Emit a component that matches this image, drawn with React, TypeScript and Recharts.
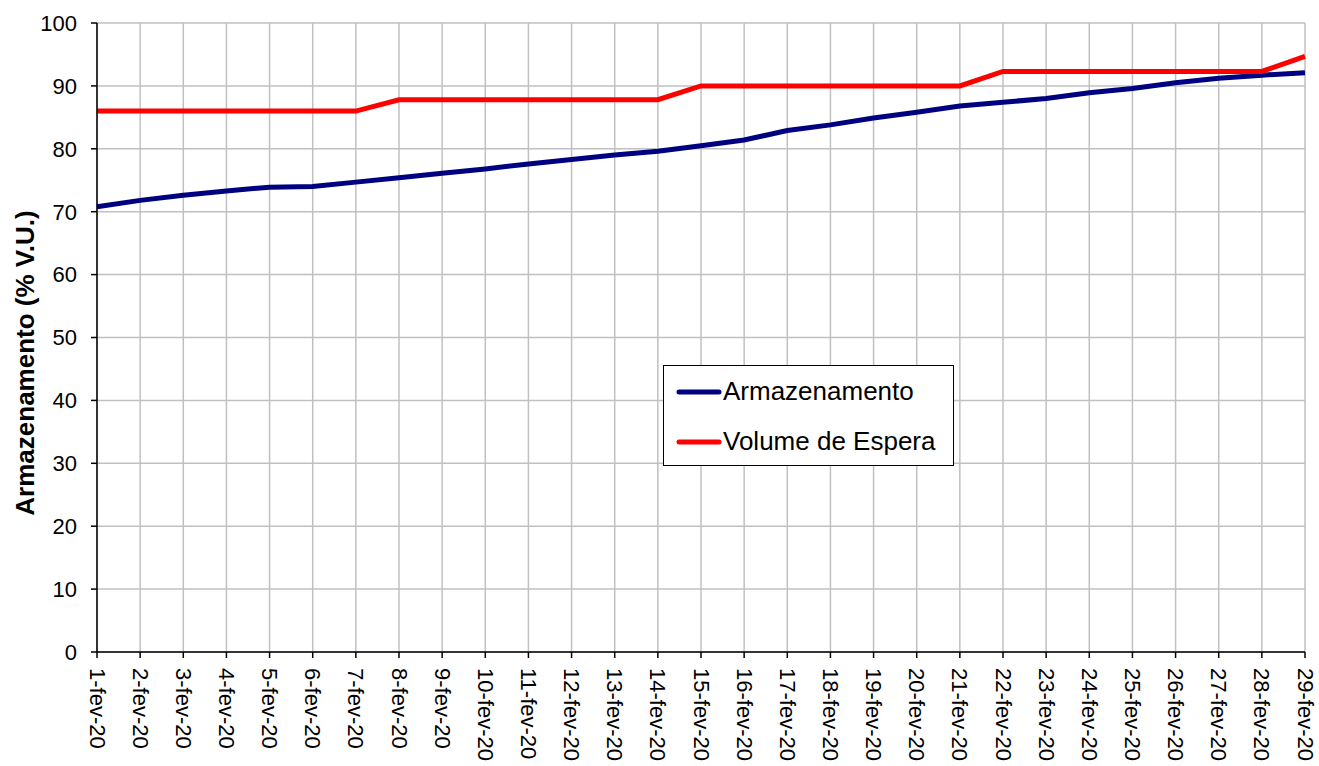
import React from 'react';
import { LineChart, Line, XAxis, YAxis, CartesianGrid } from 'recharts';

const days = [
  '1-fev-20', '2-fev-20', '3-fev-20', '4-fev-20', '5-fev-20', '6-fev-20', '7-fev-20',
  '8-fev-20', '9-fev-20', '10-fev-20', '11-fev-20', '12-fev-20', '13-fev-20', '14-fev-20',
  '15-fev-20', '16-fev-20', '17-fev-20', '18-fev-20', '19-fev-20', '20-fev-20', '21-fev-20',
  '22-fev-20', '23-fev-20', '24-fev-20', '25-fev-20', '26-fev-20', '27-fev-20', '28-fev-20',
  '29-fev-20',
];

const armazenamento = [
  70.8, 71.8, 72.6, 73.3, 73.9, 74.0, 74.7, 75.4, 76.1, 76.8, 77.6, 78.3, 79.0, 79.6,
  80.5, 81.4, 82.9, 83.8, 84.9, 85.8, 86.8, 87.4, 88.0, 88.9, 89.6, 90.5, 91.2, 91.7, 92.1,
];

const volumeEspera = [
  86.0, 86.0, 86.0, 86.0, 86.0, 86.0, 86.0,
  87.8, 87.8, 87.8, 87.8, 87.8, 87.8, 87.8,
  90.0, 90.0, 90.0, 90.0, 90.0, 90.0, 90.0,
  92.3, 92.3, 92.3, 92.3, 92.3, 92.3, 92.3,
  94.7,
];

const yTicks = [0, 10, 20, 30, 40, 50, 60, 70, 80, 90, 100];

const series = [
  { key: 'armazenamento', label: 'Armazenamento', color: '#000080' },
  { key: 'espera', label: 'Volume de Espera', color: '#ff0000' },
];

const data = days.map((d, i) => ({
  day: d,
  armazenamento: armazenamento[i],
  espera: volumeEspera[i],
}));

const FONT = '"Liberation Sans", Arial, sans-serif';

function DayTick({ x, y, payload }: any) {
  return (
    <text
      x={x}
      y={y}
      transform={`rotate(90, ${x}, ${y})`}
      textAnchor="start"
      dominantBaseline="central"
      fontSize={22}
      fontFamily={FONT}
      fill="#000"
    >
      {payload.value}
    </text>
  );
}

function YLabel() {
  return (
    <text
      x={25}
      y={363}
      transform="rotate(-90, 25, 363)"
      textAnchor="middle"
      dominantBaseline="central"
      fontSize={26}
      fontWeight="bold"
      fontFamily={FONT}
      fill="#000"
    >
      Armazenamento (% V.U.)
    </text>
  );
}

function LegendBox() {
  return (
    <div
      style={{
        position: 'absolute',
        left: 663,
        top: 365,
        width: 289,
        height: 99,
        border: '1px solid #000',
        background: '#fff',
        fontFamily: FONT,
        fontSize: 26,
        color: '#000',
      }}
    >
      {series.map((s) => (
        <div key={s.key} style={{ position: 'relative', height: 50 }}>
          <svg width={50} height={10} style={{ position: 'absolute', left: 12, top: 21 }}>
            <line x1={3} y1={5} x2={43} y2={5} stroke={s.color} strokeWidth={5} strokeLinecap="round" />
          </svg>
          <span style={{ position: 'absolute', left: 59, top: 10, lineHeight: '30px', whiteSpace: 'nowrap' }}>
            {s.label}
          </span>
        </div>
      ))}
    </div>
  );
}

export default function App() {
  return (
    <div style={{ position: 'absolute', left: 0, top: 0, width: 1319, height: 766, background: '#fff' }}>
      <LineChart
        width={1319}
        height={766}
        data={data}
        margin={{ top: 23, right: 14, bottom: 0, left: 0 }}
      >
        <CartesianGrid stroke="#c0c0c0" strokeWidth={1.5} />
        <XAxis
          dataKey="day"
          interval={0}
          height={114}
          tick={<DayTick />}
          tickSize={6}
          tickMargin={10}
          stroke="#000"
          strokeWidth={1.5}
          tickLine={{ stroke: '#000' }}
        />
        <YAxis
          domain={[0, 100]}
          ticks={yTicks}
          interval={0}
          width={97}
          tickSize={6}
          tickMargin={14}
          stroke="#000"
          strokeWidth={1.5}
          tick={{ fontSize: 22, fontFamily: FONT, fill: '#000' }}
          label={<YLabel />}
        />
        {series.map((s) => (
          <Line
            key={s.key}
            type="linear"
            dataKey={s.key}
            name={s.label}
            stroke={s.color}
            strokeWidth={5}
            dot={false}
            isAnimationActive={false}
          />
        ))}
      </LineChart>
      <LegendBox />
    </div>
  );
}
